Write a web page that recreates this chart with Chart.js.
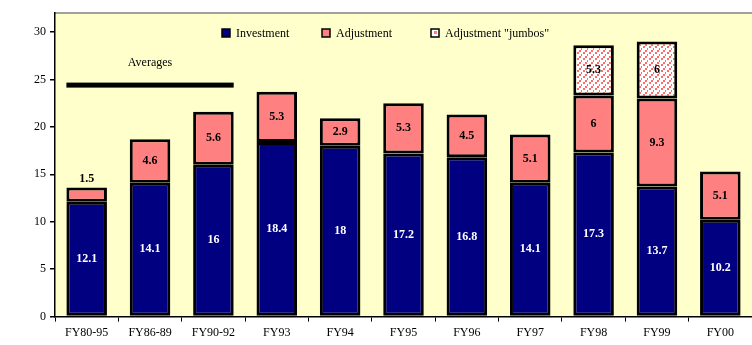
<!DOCTYPE html>
<html>
<head>
<meta charset="utf-8">
<script src="https://cdn.jsdelivr.net/npm/chart.js@4.4.0/dist/chart.umd.min.js"></script>
<style>
  body { margin: 0; background: #fff; }
  #wrap { width: 752px; height: 345px; }
</style>
</head>
<body>
<div id="wrap"><canvas id="chart" width="752" height="345"></canvas></div>
<script>
// データ
const categories = ['FY80-95', 'FY86-89', 'FY90-92', 'FY93', 'FY94', 'FY95', 'FY96', 'FY97', 'FY98', 'FY99', 'FY00'];
const investment = [12.1, 14.1, 16, 18.4, 18, 17.2, 16.8, 14.1, 17.3, 13.7, 10.2];
const adjustment = [1.5, 4.6, 5.6, 5.3, 2.9, 5.3, 4.5, 5.1, 6, 9.3, 5.1];
const jumbos = [null, null, null, null, null, null, null, null, 5.3, 6, null];
const seriesNames = ['Investment', 'Adjustment', 'Adjustment "jumbos"'];
const averagesLevel = 24.4;   // 太線の高さ
const averagesSpan = [0, 2];  // 平均の対象カテゴリ

const serif = '"Liberation Serif", "DejaVu Serif", serif';
const navy = '#000080';
const salmon = '#ff8080';
const plotBg = '#ffffcc';

// ジャンボ用の斜めドット模様
function makePattern() {
    const c = document.createElement('canvas');
    c.width = 6; c.height = 6;
    const g = c.getContext('2d');
    g.fillStyle = '#ffffff';
    g.fillRect(0, 0, 6, 6);
    g.fillStyle = '#ff6a6a';
    for (let i = 0; i < 6; i += 2) {
        g.fillRect(5 - i, i, 2, 2);
    }
    return g.createPattern(c, 'repeat');
}
const jumboFill = makePattern();

// プロット背景と上枠
const backgroundPlugin = {
    id: 'plotBackground',
    beforeDraw(chart) {
        const { ctx, chartArea: a } = chart;
        ctx.save();
        ctx.fillStyle = plotBg;
        ctx.fillRect(a.left, a.top, a.right - a.left, a.bottom - a.top);
        ctx.strokeStyle = '#a0a0a0';
        ctx.lineWidth = 2;
        ctx.beginPath();
        ctx.moveTo(a.left, a.top);
        ctx.lineTo(a.right, a.top);
        ctx.stroke();
        ctx.restore();
    }
};

// 値ラベル、平均線、凡例
const overlayPlugin = {
    id: 'overlay',
    afterDatasetsDraw(chart) {
        const { ctx } = chart;
        ctx.save();
        ctx.font = 'bold 12px ' + serif;
        ctx.textAlign = 'center';
        ctx.textBaseline = 'middle';
        chart.data.datasets.forEach((ds, di) => {
            const meta = chart.getDatasetMeta(di);
            meta.data.forEach((bar, i) => {
                const v = ds.data[i];
                if (v == null) return;
                ctx.fillStyle = di === 0 ? '#ffffff' : '#000000';
                const mid = (bar.y + bar.base) / 2;
                if (di === 1 && v < 2) {
                    ctx.fillText(String(v), bar.x, bar.y - 9);
                } else {
                    ctx.fillText(String(v), bar.x, mid);
                }
            });
        });

        // Averages
        const ys = chart.scales.y;
        const meta0 = chart.getDatasetMeta(0);
        const b0 = meta0.data[averagesSpan[0]], b1 = meta0.data[averagesSpan[1]];
        const x0 = b0.x - b0.width / 2, x1 = b1.x + b1.width / 2;
        const yl = ys.getPixelForValue(averagesLevel);
        ctx.fillStyle = '#000';
        ctx.fillRect(x0, yl - 2.5, x1 - x0, 5);
        ctx.font = '12px ' + serif;
        ctx.fillText('Averages', (x0 + x1) / 2, yl - 22);

        // 凡例
        const items = [
            { x: 222, fill: navy },
            { x: 322, fill: salmon },
            { x: 431, fill: 'pattern' }
        ];
        ctx.font = '12px ' + serif;
        ctx.textAlign = 'left';
        items.forEach((it, k) => {
            const y = 33;
            if (it.fill === 'pattern') {
                ctx.fillStyle = '#fff';
                ctx.fillRect(it.x, y - 4, 8, 8);
                ctx.fillStyle = salmon;
                ctx.fillRect(it.x + 3, y - 2, 3, 3);
            } else {
                ctx.fillStyle = it.fill;
                ctx.fillRect(it.x, y - 4, 8, 8);
            }
            ctx.strokeStyle = '#000';
            ctx.lineWidth = 1.5;
            ctx.strokeRect(it.x, y - 4, 8, 8);
            ctx.fillStyle = '#000';
            ctx.fillText(seriesNames[k], it.x + 14, y + 1);
        });
        ctx.restore();
    }
};

const ctx = document.getElementById('chart').getContext('2d');
new Chart(ctx, {
    type: 'bar',
    data: {
        labels: categories,
        datasets: [
            { label: seriesNames[0], data: investment, backgroundColor: navy, borderColor: '#000', borderWidth: 3, borderSkipped: false },
            { label: seriesNames[1], data: adjustment, backgroundColor: salmon, borderColor: '#000', borderWidth: 3, borderSkipped: false },
            { label: seriesNames[2], data: jumbos, backgroundColor: jumboFill, borderColor: '#000', borderWidth: 3, borderSkipped: false }
        ]
    },
    options: {
        responsive: false,
        animation: false,
        layout: { padding: { top: 13, right: 0, left: 30, bottom: 1 } },
        datasets: { bar: { categoryPercentage: 1, barPercentage: 0.64 } },
        plugins: {
            legend: { display: false },
            tooltip: { enabled: false }
        },
        scales: {
            x: {
                stacked: true,
                offset: true,
                grid: { offset: true, drawOnChartArea: false, drawTicks: true, tickLength: 5, color: '#000', lineWidth: 1 },
                border: { display: true, color: '#000', width: 1.5 },
                ticks: { color: '#000', font: { family: serif, size: 12 }, padding: 4, maxRotation: 0, autoSkip: false }
            },
            y: {
                stacked: true,
                min: 0,
                max: 32,
                afterBuildTicks(scale) {
                    scale.ticks = [0, 5, 10, 15, 20, 25, 30].map(v => ({ value: v }));
                },
                grid: { drawOnChartArea: false, drawTicks: true, tickLength: 5, color: '#000', lineWidth: 1.5 },
                border: { display: true, color: '#000', width: 1.5 },
                ticks: { color: '#000', font: { family: serif, size: 12 }, padding: 4 }
            }
        }
    },
    plugins: [backgroundPlugin, overlayPlugin]
});
</script>
</body>
</html>
